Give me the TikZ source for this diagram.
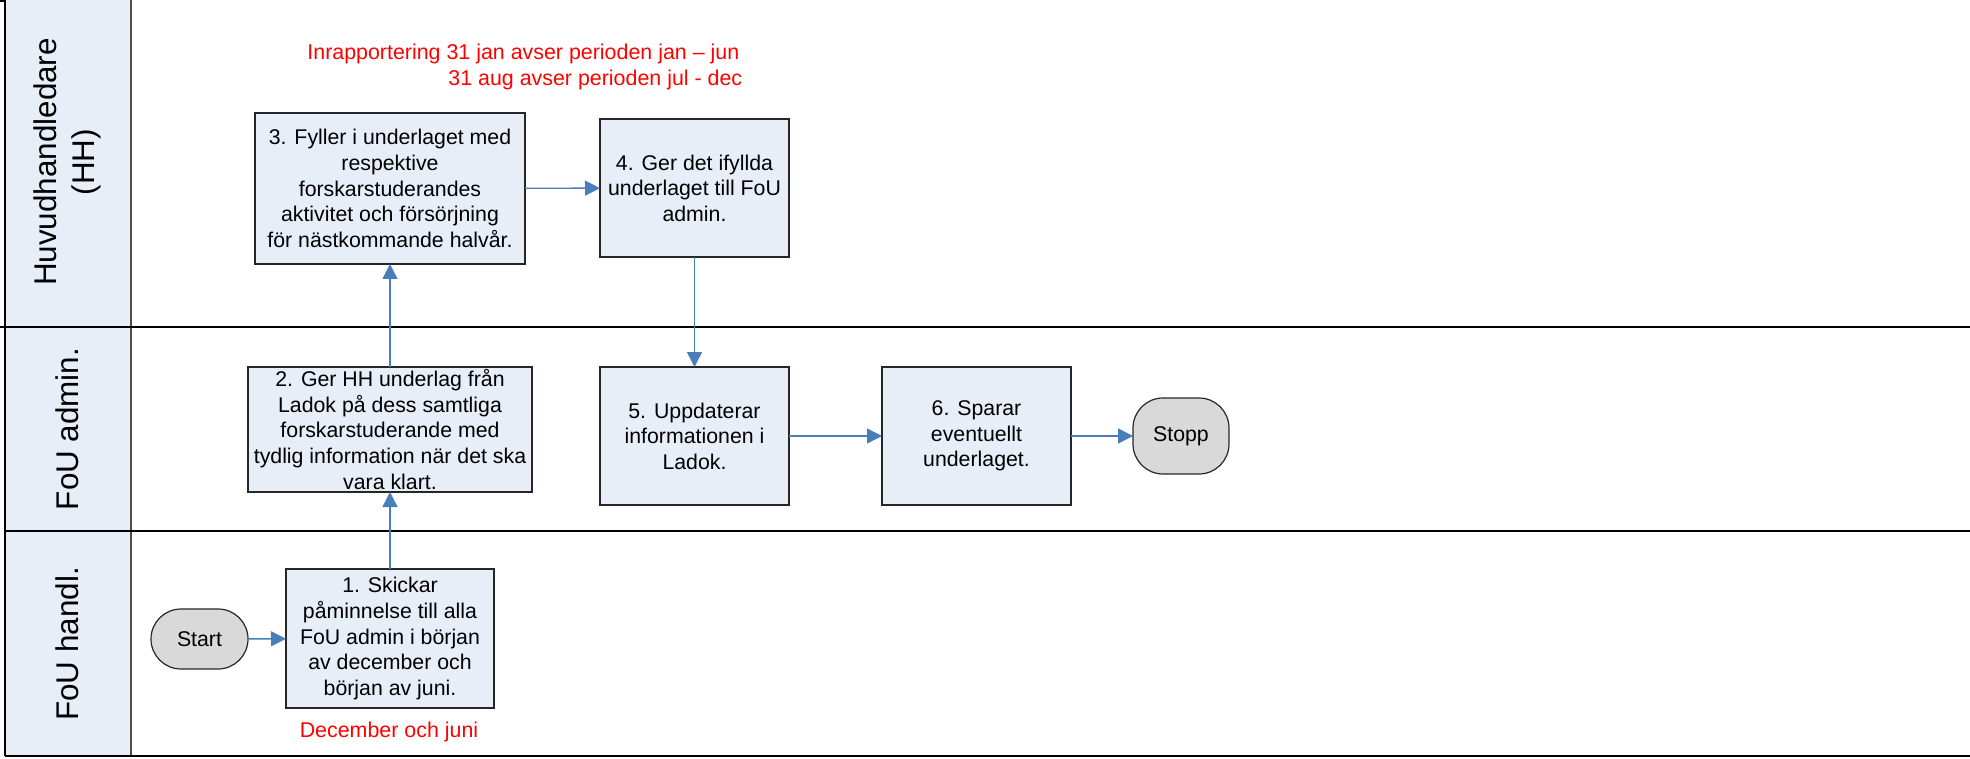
\documentclass[tikz,border=0pt]{standalone}
\usepackage{fontspec}
\setmainfont{Liberation Sans}
\usetikzlibrary{arrows.meta}
\definecolor{boxfill}{HTML}{E8EEF8}
\definecolor{hdrfill}{HTML}{E8EEF7}
\definecolor{termfill}{HTML}{D9D9D9}
\definecolor{conn}{HTML}{4A7EBB}
\definecolor{notered}{HTML}{FF0000}
\begin{document}
\begin{tikzpicture}[x=0.5pt,y=-0.5pt,
  stepbox/.style={draw=black!85, line width=1pt, fill=boxfill, align=center, inner sep=0pt, outer sep=0pt,
    font=\fontsize{10.65pt}{12.8pt}\selectfont},
  termbox/.style={draw=black!85, line width=0.6pt, fill=termfill, rounded corners=15pt, inner sep=0pt, outer sep=0pt,
    font=\fontsize{10.65pt}{12.8pt}\selectfont},
  flow/.style={draw=conn, line width=0.7pt, -{Triangle[length=7.5pt,width=7.5pt]}},
  laneline/.style={line width=1pt, black},
  hdr/.style={rotate=90, align=center, font=\fontsize{15.7pt}{19pt}\selectfont},
  note/.style={text=notered, inner sep=0pt, font=\fontsize{10.7pt}{13pt}\selectfont}
]
\useasboundingbox (0,0) rectangle (1970,759);
% lane header band
\fill[hdrfill] (5,0) rectangle (131,756);
\draw[line width=0.8pt, black!70] (131,0) -- (131,756);
% lane lines
\draw[laneline] (5,0) -- (5,756);
\draw[laneline] (0,1) -- (5,1);
\draw[laneline] (0,327) -- (1970,327);
\draw[laneline] (5,531) -- (1970,531);
\draw[laneline] (5,756) -- (1970,756);
% lane headers
\node[hdr] (hh) at (67,162) {Huvudhandledare\\(HH)};
\node[hdr] (fa) at (67,429) {FoU admin.};
\node[hdr] (fh) at (67,644) {FoU handl.};
% notes
\node[note, align=left, anchor=west] (n1) at (307,67) {Inrapportering 31 jan avser perioden jan – jun\\\hspace*{70.5pt}31 aug avser perioden jul - dec};
\node[note] (n2) at (389,732) {December och juni};
% steps
\node[stepbox, minimum width=104pt, minimum height=69.5pt] (s1) at (390,638.5)
  {1. Skickar\\påminnelse till alla\\FoU admin i början\\av december och\\början av juni.};
\node[stepbox, minimum width=142pt, minimum height=62.5pt] (s2) at (390,429.5)
  {2. Ger HH underlag från\\Ladok på dess samtliga\\forskarstuderande med\\tydlig information när det ska\\vara klart.};
\node[stepbox, minimum width=135pt, minimum height=75.5pt] (s3) at (390,188.5)
  {3. Fyller i underlaget med\\respektive\\forskarstuderandes\\aktivitet och försörjning\\för nästkommande halvår.};
\node[stepbox, minimum width=94.5pt, minimum height=69pt] (s4) at (694.5,188)
  {4. Ger det ifyllda\\underlaget till FoU\\admin.};
\node[stepbox, minimum width=94.5pt, minimum height=69pt] (s5) at (694.5,436)
  {5. Uppdaterar\\informationen i\\Ladok.};
\node[stepbox, minimum width=94.5pt, minimum height=69pt] (s6) at (976.5,436)
  {6. Sparar\\eventuellt\\underlaget.};
\node[termbox, minimum width=48.5pt, minimum height=30pt] (start) at (199.5,639) {Start};
\node[termbox, minimum width=48pt, minimum height=38pt] (stopp) at (1181,436) {Stopp};
% connectors
\draw[flow] (start) -- (s1);
\draw[flow] (s1) -- (s2);
\draw[flow] (s2) -- (s3);
\draw[flow] (s3) -- (s4);
\draw[flow] (s4) -- (s5);
\draw[flow] (s5) -- (s6);
\draw[flow] (s6) -- (stopp);
\end{tikzpicture}
\end{document}
